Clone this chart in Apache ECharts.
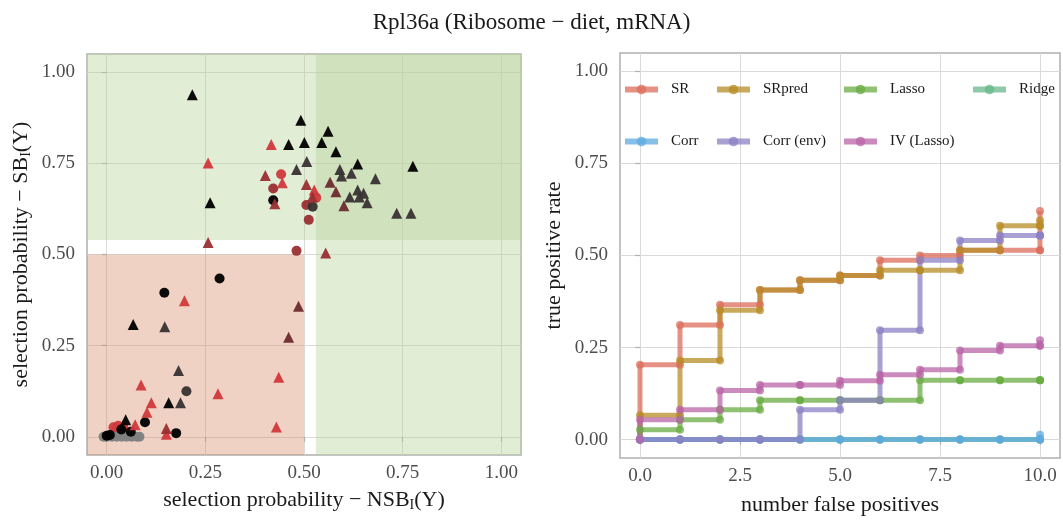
<!DOCTYPE html>
<html><head><meta charset="utf-8">
<script src="https://cdn.jsdelivr.net/npm/echarts@6/dist/echarts.min.js"></script>
<style>html,body{margin:0;padding:0;background:#fff}#c{width:1063px;height:521px}</style>
</head><body><div id="c"></div>
<script>
// ---------- Left panel: selection probabilities ----------
const triBlack = [[0.217,0.938],[0.492,0.868],[0.561,0.838],[0.461,0.802],[0.501,0.807],[0.545,0.807],[0.581,0.782],[0.636,0.748],[0.776,0.742],[0.262,0.642],[0.067,0.308],[0.157,0.093],[0.048,0.047]];
const triDark = [[0.507,0.755],[0.481,0.733],[0.591,0.733],[0.595,0.715],[0.620,0.723],[0.681,0.708],[0.636,0.677],[0.651,0.668],[0.616,0.658],[0.640,0.658],[0.660,0.642],[0.735,0.613],[0.771,0.613],[0.147,0.302],[0.182,0.182],[0.187,0.093]];
const triMaroon = [[0.566,0.698],[0.581,0.672],[0.601,0.634],[0.486,0.358],[0.461,0.273]];
const triDarkRed = [[0.402,0.717],[0.506,0.692],[0.521,0.658],[0.426,0.639],[0.257,0.533],[0.555,0.504],[0.151,0.023]];
const triRed = [[0.417,0.802],[0.257,0.751],[0.445,0.697],[0.526,0.677],[0.197,0.373],[0.087,0.142],[0.436,0.163],[0.282,0.118],[0.113,0.093],[0.102,0.067],[0.072,0.033],[0.430,0.027],[0.151,0.007]];
const circBlack = [[0.422,0.649],[0.286,0.434],[0.146,0.395],[0.097,0.040],[0.037,0.020],[0.061,0.014],[0.176,0.010],[0.008,0.005],[0.0,0.003]];
const circDark = [[0.522,0.631],[0.202,0.125]];
const circDarkRed = [[0.422,0.681],[0.506,0.636],[0.512,0.595],[0.481,0.510]];
const circRed = [[0.442,0.720],[0.531,0.656],[0.017,0.026],[0.029,0.030],[0.042,0.026],[0.025,0.022]];
const circGray = [[-0.008,0.0],[0.0,0.0],[0.013,0.0],[0.025,0.0],[0.038,0.0],[0.05,0.0],[0.063,0.0],[0.076,0.0],[0.083,0.0]];
const pinkThreshold = 0.5;
const greenThresholdX = 0.53;
const greenThresholdY = 0.54;
const unitTicks = [0, 0.25, 0.5, 0.75, 1];

// ---------- Right panel: true positive rate vs number of false positives ----------
const fpCounts = [0,1,2,3,4,5,6,7,8,9,10];
const fpTicks = [0, 2.5, 5, 7.5, 10];
const methodNames = ['SR','SRpred','Lasso','Ridge','Corr','Corr (env)','IV (Lasso)'];
const tprSR       = [0.203,0.311,0.366,0.406,0.433,0.446,0.487,0.500,0.514,0.514,0.514];
const tprSRpred   = [0.066,0.215,0.351,0.406,0.433,0.446,0.460,0.460,0.514,0.581,0.581];
const tprLasso    = [0.027,0.054,0.081,0.107,0.107,0.107,0.107,0.161,0.161,0.161,0.161];
const tprRidge    = [0,0,0,0,0,0,0,0,0,0,0];
const tprCorr     = [0,0,0,0,0,0,0,0,0,0,0];
const tprCorrEnv  = [0,0,0,0,0.081,0.107,0.297,0.487,0.541,0.554,0.554];
const tprIVLasso  = [0.054,0.081,0.133,0.148,0.148,0.160,0.176,0.190,0.242,0.255,0.255];
const tprFinal    = [0.621,0.595,0.161,0,0.013,0.554,0.270];

const methodColors = ['#dc6e5b','#b78c26','#6aac43','#68b78b','#5eaae0','#8c80c4','#ba64a7'];
const serif = 'Liberation Serif';

function rocPoints(levels, finalVal){
  const pts = [[fpCounts[0], 0]];
  let prev = 0;
  levels.forEach((v, k) => {
    if (k > 0) pts.push([fpCounts[k], prev]);
    pts.push([fpCounts[k], v]);
    prev = v;
  });
  pts.push([fpCounts[fpCounts.length-1], finalVal]);
  return pts;
}
const tprAll = [tprSR,tprSRpred,tprLasso,tprRidge,tprCorr,tprCorrEnv,tprIVLasso];

const chart = echarts.init(document.getElementById('c'), null, {renderer:'canvas'});

const tickLabel = {fontFamily: serif, fontSize: 19, color: '#4d4d4d'};
const nameStyle = {fontFamily: serif, fontSize: 22, color: '#1a1a1a',
  rich: {sub: {fontFamily: serif, fontSize: 14, color: '#1a1a1a', padding: [9,0,0,0]}}};
function valueAxis(grid, min, max, ticks, digits, name, gap, margin){
  return {
    type: 'value', gridIndex: grid, min: min, max: max,
    axisLine: {show: false},
    axisTick: {show: true, length: 5, customValues: ticks, lineStyle: {color: '#b0b0b0', width: 1.2}},
    axisLabel: Object.assign({customValues: ticks, margin: margin, formatter: v => v.toFixed(digits)}, tickLabel),
    splitLine: {show: true, lineStyle: {color: '#d9d9d9', width: 1}},
    name: name, nameLocation: 'middle', nameGap: gap, nameTextStyle: nameStyle
  };
}

const scatterGroups = [
  {data: circRed, sym: 'circle', color: '#cf3a3c'},
  {data: circGray, sym: 'circle', color: '#7f7f7f'},
  {data: circDarkRed, sym: 'circle', color: '#9a2f33'},
  {data: circDark, sym: 'circle', color: '#353030'},
  {data: circBlack, sym: 'circle', color: '#000000'},
  {data: triRed, sym: 'triangle', color: '#d0383b'},
  {data: triDarkRed, sym: 'triangle', color: '#9a2f33'},
  {data: triMaroon, sym: 'triangle', color: '#6b2b2d'},
  {data: triDark, sym: 'triangle', color: '#383233'},
  {data: triBlack, sym: 'triangle', color: '#000000'}
];

const series = [];
series.push({
  type: 'scatter', xAxisIndex: 0, yAxisIndex: 0, data: [], silent: true,
  markArea: {
    silent: true,
    data: [
      [{coord: [-0.05, greenThresholdY], itemStyle: {color: 'rgba(183,210,153,0.4)'}}, {coord: [1.05, 1.05]}],
      [{coord: [greenThresholdX, -0.05], itemStyle: {color: 'rgba(183,210,153,0.4)'}}, {coord: [1.05, 1.05]}],
      [{coord: [-0.05, -0.05], itemStyle: {color: 'rgba(218,143,110,0.4)'}}, {coord: [pinkThreshold, pinkThreshold]}]
    ]
  }
});
scatterGroups.forEach(g => series.push({
  type: 'scatter', xAxisIndex: 0, yAxisIndex: 0, data: g.data, symbol: g.sym,
  symbolSize: g.sym === 'triangle' ? 11 : 10, itemStyle: {color: g.color, opacity: 0.95}, silent: true
}));
methodNames.forEach((n, i) => series.push({
  type: 'line', name: n, xAxisIndex: 1, yAxisIndex: 1,
  data: rocPoints(tprAll[i], tprFinal[i]),
  symbol: 'circle', symbolSize: 8, showSymbol: true,
  lineStyle: {color: methodColors[i], width: 5, opacity: 0.75},
  itemStyle: {color: methodColors[i], opacity: 0.75},
  emphasis: {disabled: true}, animation: false
}));

const legendPos = [[622,82],[714,82],[841,82],[970,82],[622,134],[714,134],[841,134]];
const legends = methodNames.map((n, i) => ({
  data: [n], left: legendPos[i][0], top: legendPos[i][1], padding: 0,
  itemWidth: 33, itemHeight: 12, selectedMode: false,
  lineStyle: {width: 6, opacity: 0.75},
  itemStyle: {opacity: 0.75},
  textStyle: {fontFamily: serif, fontSize: 15, color: '#1a1a1a', padding: [0,0,0,8]}
}));

chart.setOption({
  animation: false,
  backgroundColor: '#ffffff',
  title: {text: 'Rpl36a (Ribosome \u2212 diet, mRNA)', left: 'center', top: 6,
    textStyle: {fontFamily: serif, fontSize: 23, fontWeight: 'normal', color: '#1a1a1a'}},
  grid: [
    {left: 87, top: 54, width: 434, height: 401, show: true, borderColor: '#b0b0b0', borderWidth: 1.5, containLabel: false},
    {left: 620, top: 53, width: 440, height: 410, show: true, borderColor: '#b0b0b0', borderWidth: 1.5, containLabel: false}
  ],
  xAxis: [
    valueAxis(0, -0.05, 1.05, unitTicks, 2, 'selection probability \u2212 NSB{sub|I}(Y)', 34, 9),
    valueAxis(1, -0.5, 10.5, fpTicks, 1, 'number false positives', 36, 9)
  ],
  yAxis: [
    valueAxis(0, -0.05, 1.05, unitTicks, 2, 'selection probability \u2212 SB{sub|I}(Y)', 54, 12),
    valueAxis(1, -0.05, 1.05, unitTicks, 2, 'true positive rate', 55, 12)
  ],
  legend: legends,
  series: series
});
</script></body></html>
